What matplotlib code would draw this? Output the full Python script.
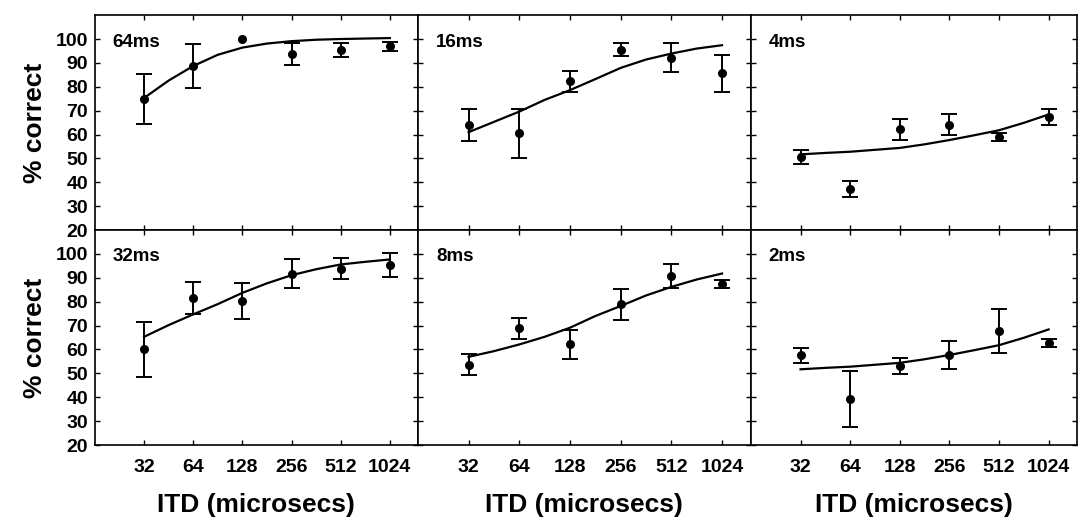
import matplotlib.pyplot as plt
import numpy as np

plt.rcParams["font.family"] = ["Liberation Sans", "DejaVu Sans"]
plt.rcParams["font.weight"] = "bold"

# ITD values (microseconds) where data were measured
itd = [32, 64, 128, 256, 512, 1024]
itd_fit = [32, 45.25, 64, 90.5, 128, 181, 256, 362, 512, 724, 1024]

panel_labels = ["64ms", "16ms", "4ms", "32ms", "8ms", "2ms"]

pct_64ms = [75.0, 88.7, 100.2, 93.6, 95.3, 96.9]
err_64ms = [10.5, 9.3, np.nan, 4.6, 3.0, 1.8]
fit_64ms = [75.3, 82.6, 88.7, 93.4, 96.4, 98.1, 99.1, 99.7, 100.0, 100.2, 100.4]

pct_16ms = [63.9, 60.5, 82.3, 95.6, 92.2, 85.6]
err_16ms = [6.7, 10.4, 4.3, 2.7, 6.0, 7.6]
fit_16ms = [61.0, 65.3, 69.6, 74.5, 78.6, 83.2, 87.9, 91.4, 93.9, 96.0, 97.4]

pct_4ms = [50.7, 37.3, 62.3, 64.1, 59.0, 67.4]
err_4ms = [3.0, 3.3, 4.4, 4.3, 1.7, 3.2]
fit_4ms = [51.7, 52.3, 52.8, 53.6, 54.4, 55.9, 57.7, 59.7, 61.8, 64.9, 68.4]

pct_32ms = [60.0, 81.6, 80.3, 91.8, 93.9, 95.3]
err_32ms = [11.4, 6.6, 7.5, 6.0, 4.4, 4.9]
fit_32ms = [65.3, 70.2, 74.7, 79.0, 83.7, 87.7, 91.1, 93.6, 95.6, 96.7, 97.7]

pct_8ms = [53.7, 68.8, 62.1, 79.0, 90.8, 87.5]
err_8ms = [4.4, 4.3, 6.0, 6.5, 4.9, 1.6]
fit_8ms = [56.9, 59.3, 62.1, 65.3, 69.1, 74.0, 78.2, 82.6, 86.2, 89.3, 91.8]

pct_2ms = [57.5, 39.2, 53.2, 57.7, 67.7, 62.7]
err_2ms = [3.3, 11.6, 3.4, 6.0, 9.3, 1.5]
fit_2ms = [51.7, 52.3, 52.8, 53.6, 54.4, 55.9, 57.7, 59.7, 61.8, 64.9, 68.4]

panels = [
    (pct_64ms, err_64ms, fit_64ms),
    (pct_16ms, err_16ms, fit_16ms),
    (pct_4ms, err_4ms, fit_4ms),
    (pct_32ms, err_32ms, fit_32ms),
    (pct_8ms, err_8ms, fit_8ms),
    (pct_2ms, err_2ms, fit_2ms),
]

fig, axes = plt.subplots(2, 3, figsize=(10.78, 5.22), dpi=100,
                         gridspec_kw={"width_ratios": [323, 333, 326]})
fig.subplots_adjust(left=0.088, right=0.999, top=0.971, bottom=0.1475,
                    wspace=0, hspace=0)

for i, ax in enumerate(axes.flat):
    pct, err, fit = panels[i]
    ax.plot(itd_fit, fit, color="black", lw=1.6, zorder=2)
    ax.errorbar(itd, pct, yerr=err, fmt="o", color="black", ms=5.5,
                elinewidth=1.4, capsize=5.5, capthick=1.4, zorder=3)
    ax.set_xscale("log", base=2)
    ax.set_xlim(2 ** 4.0, 2 ** 10.57)
    ax.set_ylim(20, 110)
    ax.set_xticks(itd)
    ax.minorticks_off()
    ax.set_yticks(range(20, 101, 10))
    ax.tick_params(direction="in", length=3.5, width=1, top=True, right=True,
                   labelsize=14)
    ax.tick_params(axis="y", pad=5)
    ax.tick_params(axis="x", pad=10)
    ax.text(0.055, 0.875, panel_labels[i], transform=ax.transAxes,
            fontsize=13.5, fontweight="bold", va="center", ha="left")
    for sp in ax.spines.values():
        sp.set_linewidth(1.2)

    row, col = divmod(i, 3)
    if col == 0:
        ax.set_ylabel("% correct", fontsize=19, fontweight="bold", labelpad=6)
    else:
        ax.set_yticklabels([])
    if row == 1:
        ax.set_xticklabels([str(v) for v in itd])
        ax.set_xlabel("ITD (microsecs)", fontsize=19, fontweight="bold",
                      labelpad=12)
    else:
        ax.set_xticklabels([])

plt.savefig("out.png", dpi=100)
